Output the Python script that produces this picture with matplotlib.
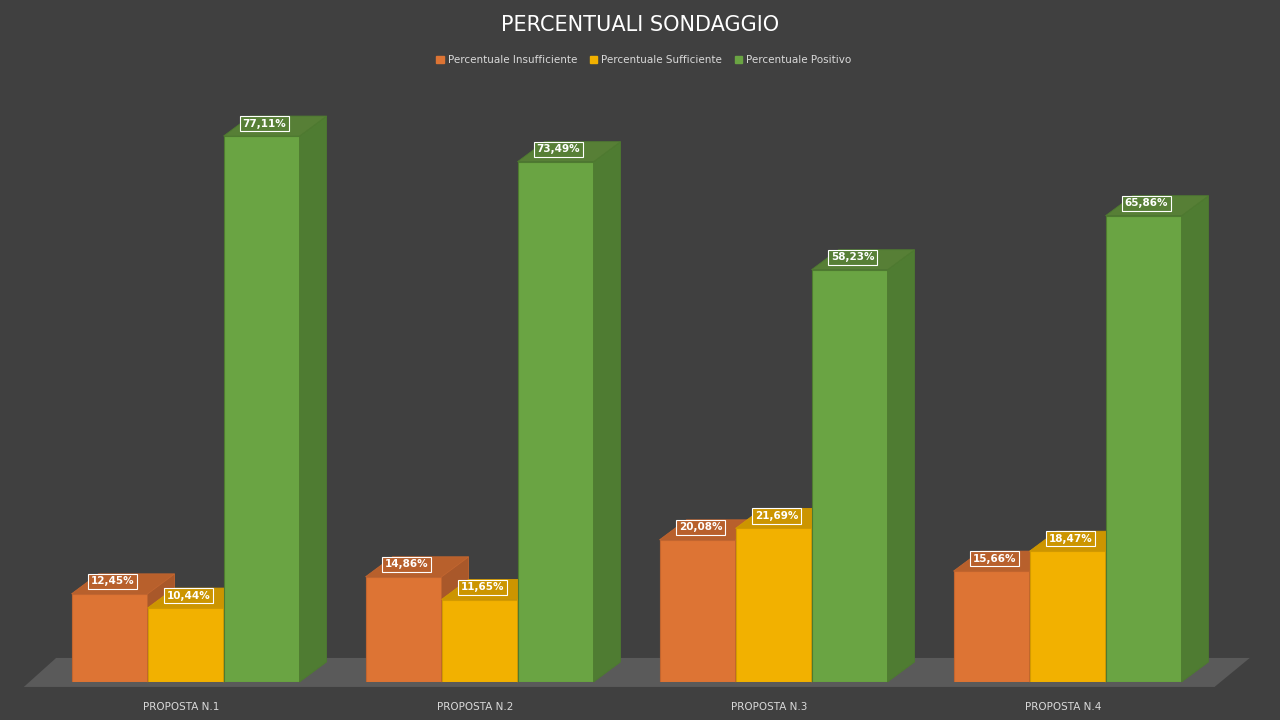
import matplotlib.pyplot as plt
from matplotlib.patches import Polygon

categorie = ["PROPOSTA N.1", "PROPOSTA N.2", "PROPOSTA N.3", "PROPOSTA N.4"]
serie = ["Percentuale Insufficiente", "Percentuale Sufficiente", "Percentuale Positivo"]
insufficiente = [12.45, 14.86, 20.08, 15.66]
sufficiente = [10.44, 11.65, 21.69, 18.47]
positivo = [77.11, 73.49, 58.23, 65.86]
valori = [insufficiente, sufficiente, positivo]

fronte = ["#DD7434", "#F2B100", "#6AA443"]
lato = ["#A9582A", "#C08C00", "#4F7C32"]
sopra = ["#B8602C", "#CC9500", "#577F36"]
bordo = ["#C2652F", "#D39A00", "#4E7A30"]

fig = plt.figure(figsize=(12.8, 7.2), dpi=100, facecolor="#404040")
ax = fig.add_axes([38.5 / 1280, 38 / 720, 1176 / 1280, 582 / 720])
ax.set_facecolor("none")
ax.set_xlim(-0.5, 3.5)
ax.set_ylim(0, 582 / 7.08)
ax.axis("off")

w = 76 / 294
dx = 27 / 294
dy = 20 / 7.08

# pavimento
floor = Polygon([(-0.55, -0.7), (3.5, -0.7), (3.62, 3.4), (-0.44, 3.4)],
                closed=True, facecolor="#5A5A5A", edgecolor="none", clip_on=False, zorder=0)
ax.add_patch(floor)

for j in range(3):
    for i, v in enumerate(valori[j]):
        x0 = i - 1.5 * w + j * w
        ax.bar(x0, v, width=w, align="edge", color=fronte[j], edgecolor=bordo[j],
               linewidth=0.8, zorder=3 + j)
        ax.add_patch(Polygon([(x0 + w, 0), (x0 + w + dx, dy), (x0 + w + dx, v + dy), (x0 + w, v)],
                             facecolor=lato[j], edgecolor=bordo[j], lw=0.6, zorder=3 + j, clip_on=False))
        ax.add_patch(Polygon([(x0, v), (x0 + dx, v + dy), (x0 + w + dx, v + dy), (x0 + w, v)],
                             facecolor=sopra[j], edgecolor=bordo[j], lw=0.6, zorder=3 + j, clip_on=False))
        ax.text(x0 + w / 2 + 0.01, v + 1.75, f"{v:.2f}%".replace(".", ","), ha="center", va="center",
                fontsize=7.5, color="white", fontweight="bold", zorder=10,
                bbox=dict(boxstyle="square,pad=0.25", facecolor=sopra[j], edgecolor="white", lw=0.8))

for i, c in enumerate(categorie):
    ax.text(i - 0.015, -3.6, c, ha="center", va="center", fontsize=7.5, color="#D9D9D9")

fig.text(0.5, 1 - 25 / 720, "PERCENTUALI SONDAGGIO", ha="center", va="center",
         fontsize=15, color="white")

handles = [plt.Rectangle((0, 0), 1, 1, color=fronte[j]) for j in range(3)]
fig.legend(handles, serie, loc="center", bbox_to_anchor=(0.503, 1 - 60 / 720), ncol=3, frameon=False,
           fontsize=7.5, labelcolor="#D9D9D9", handlelength=0.7, handleheight=0.7,
           handletextpad=0.4, columnspacing=1.2)

fig.savefig("out.png", dpi=100, facecolor=fig.get_facecolor())
